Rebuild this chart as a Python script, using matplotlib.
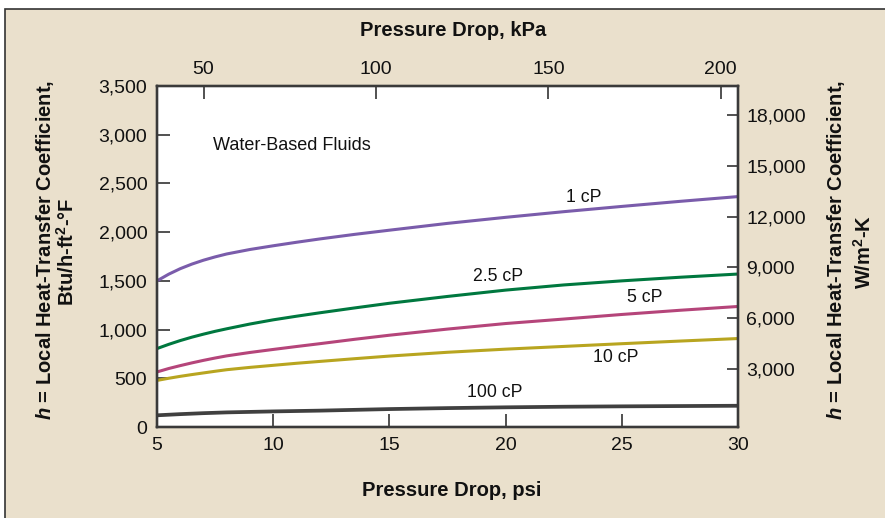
import matplotlib
matplotlib.use("Agg")
import matplotlib.pyplot as plt
from matplotlib.patches import Rectangle
from matplotlib.ticker import FuncFormatter

plt.rcParams['font.family'] = ['Liberation Sans', 'DejaVu Sans']
plt.rcParams['mathtext.fontset'] = 'custom'
plt.rcParams['mathtext.rm'] = 'Liberation Sans:bold'
plt.rcParams['mathtext.it'] = 'Liberation Sans:bold:italic'
plt.rcParams['mathtext.bf'] = 'Liberation Sans:bold'

# pressure drop, psi
psi = [5, 5.5, 6, 6.5, 7, 7.5, 8, 9, 10, 11, 12, 13.5, 15, 17.5, 20, 22.5, 25, 27.5, 30]

# h, Btu/h-ft2-F
h_1cp = [1500, 1568, 1625, 1672, 1712, 1746, 1776, 1822, 1860, 1896, 1930, 1977,
         2020, 2090, 2152, 2210, 2264, 2316, 2365]
h_2_5cp = [805, 848, 887, 922, 953, 982, 1008, 1057, 1100, 1137, 1172, 1222,
           1270, 1340, 1405, 1458, 1500, 1537, 1570]
h_5cp = [565, 600, 630, 658, 684, 708, 730, 765, 796, 826, 855, 900,
         942, 1005, 1062, 1108, 1155, 1198, 1237]
h_10cp = [478, 500, 520, 538, 555, 572, 588, 612, 633, 654, 673, 701,
          728, 767, 799, 827, 855, 882, 908]
h_100cp = [120, 126, 132, 137, 142, 146, 150, 155, 160, 164, 168, 176,
           184, 194, 202, 208, 212, 215, 218]

series = [
    (h_1cp, '#7a5cab', '1 cP', (23.36, 2359)),
    (h_2_5cp, '#00783f', '2.5 cP', (19.68, 1543)),
    (h_5cp, '#b5457a', '5 cP', (26.0, 1333)),
    (h_10cp, '#b8a520', '10 cP', (24.75, 717)),
    (h_100cp, '#404040', '100 cP', (19.52, 354)),
]

left_ticks = [0, 500, 1000, 1500, 2000, 2500, 3000, 3500]
bottom_ticks = [5, 10, 15, 20, 25, 30]
top_ticks = [50, 100, 150, 200]
right_ticks = [3000, 6000, 9000, 12000, 15000, 18000]

W, H = 885, 518
fig = plt.figure(figsize=(W / 100, H / 100), dpi=100)
fig.patch.set_facecolor('white')

# beige panel with a dark frame on top/left
fig.patches.append(Rectangle((5 / W, -0.05), 1.1, 1 - 9 / H + 0.05,
                             transform=fig.transFigure, facecolor='#eae0cc',
                             edgecolor='#333333', lw=1.2, zorder=-5))

x0, x1 = 157, 738
y0, y1 = 86, 427
ax = fig.add_axes([x0 / W, 1 - y1 / H, (x1 - x0) / W, (y1 - y0) / H])
ax.set_facecolor('white')

for vals, col, name, pos in series:
    lw = 2.7 if name == '100 cP' else 2.2
    ax.plot(psi, vals, color=col, lw=lw, solid_capstyle='butt', solid_joinstyle='round')
    ax.text(pos[0], pos[1], name, fontsize=12.7, ha='center', va='center', color='#111111')

ax.text(7.39, 2887, 'Water-Based Fluids', fontsize=13, ha='left', va='center', color='#111111')

ax.set_xlim(5, 30)
ax.set_ylim(0, 3500)
ax.set_xticks(bottom_ticks)
ax.set_yticks(left_ticks)
ax.yaxis.set_major_formatter(FuncFormatter(lambda v, p: f'{int(v):,}'))

tick_kw = dict(direction='in', length=9.5, width=1.2, color='#333333',
               labelsize=14, labelcolor='#111111')
ax.tick_params(axis='x', pad=7, **tick_kw)
ax.tick_params(axis='y', pad=7, **tick_kw)

# top axis in kPa
axt = ax.twiny()
axt.set_xlim(36.5, 205.0)
axt.set_xticks(top_ticks)
axt.tick_params(axis='x', pad=6, **tick_kw)

# right axis in W/m2-K
axr = ax.twinx()
axr.set_ylim(-425, 19713)
axr.set_yticks(right_ticks)
axr.yaxis.set_major_formatter(FuncFormatter(lambda v, p: f'{int(v):,}'))
axr.tick_params(axis='y', pad=6, direction='in', length=8, width=1.2, color='#333333',
                labelsize=14, labelcolor='#111111')

for a in (ax, axt, axr):
    for s in a.spines.values():
        s.set_color('#3a3a3a')
        s.set_linewidth(1.6)

lbl = dict(fontsize=14.5, fontweight='bold', color='#111111', ha='center', va='center')
fig.text(452 / W, 1 - 491 / H, 'Pressure Drop, psi', **lbl)
fig.text(453 / W, 1 - 31 / H, 'Pressure Drop, kPa', **lbl)

fig.text(45 / W, 1 - 250 / H, '$h$ = Local Heat-Transfer Coefficient,', rotation=90, **lbl)
fig.text(67 / W, 1 - 252 / H, 'Btu/h-ft$^2$-°F', rotation=90, **lbl)
fig.text(836 / W, 1 - 250 / H, '$h$ = Local Heat-Transfer Coefficient,', rotation=90, **lbl)
fig.text(864 / W, 1 - 252 / H, 'W/m$^2$-K', rotation=90, **lbl)

fig.savefig('out.png', dpi=100, facecolor=fig.get_facecolor())
